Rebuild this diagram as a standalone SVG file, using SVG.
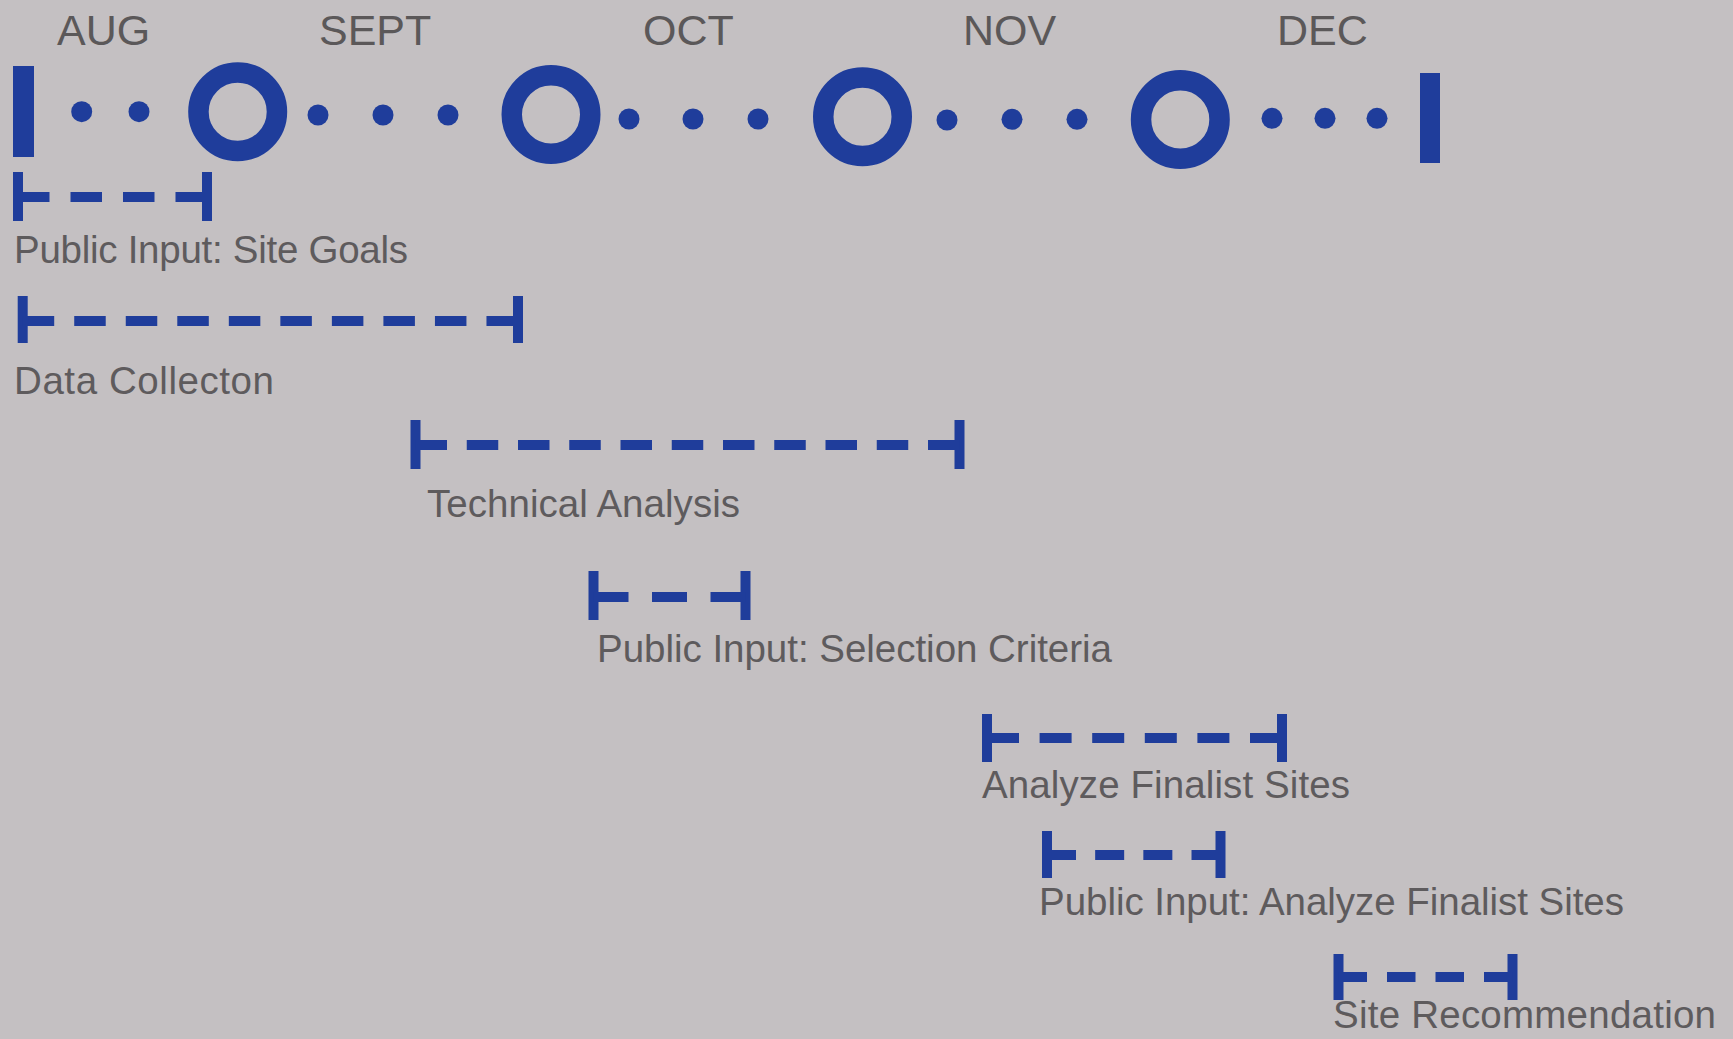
<svg xmlns="http://www.w3.org/2000/svg" width="1733" height="1039" viewBox="0 0 1733 1039">
  <style>
    .month { font-family: "Liberation Sans", Arial, sans-serif; font-size: 43px; fill: #5b5859; }
    .label { font-family: "Liberation Sans", Arial, sans-serif; font-size: 38.5px; fill: #5e5b5d; }
    .blue { fill: #1f3d9b; }
    .ring { fill: none; stroke: #1f3d9b; stroke-width: 20.5; }
    .tick { stroke: #1f3d9b; stroke-width: 10; }
    .dash { stroke: #1f3d9b; stroke-width: 10; fill: none; }
  </style>
  <rect x="0" y="0" width="1733" height="1039" fill="#c4c0c2"/>

  <g id="months">
    <text class="month" x="57" y="45">AUG</text>
    <text class="month" x="319" y="45">SEPT</text>
    <text class="month" x="643" y="45">OCT</text>
    <text class="month" x="963" y="45">NOV</text>
    <text class="month" x="1277" y="45">DEC</text>
  </g>

  <g id="timeline">
    <rect class="blue" x="13" y="66" width="21" height="91"/>
    <circle class="blue" cx="81.7" cy="111.7" r="10.5"/>
    <circle class="blue" cx="139" cy="111.7" r="10.5"/>
    <circle class="ring" cx="237.7" cy="111.7" r="39.25"/>
    <circle class="blue" cx="318" cy="115" r="10.5"/>
    <circle class="blue" cx="383" cy="115" r="10.5"/>
    <circle class="blue" cx="448" cy="115" r="10.5"/>
    <circle class="ring" cx="551" cy="114.5" r="39.25"/>
    <circle class="blue" cx="629" cy="119" r="10.5"/>
    <circle class="blue" cx="693" cy="119" r="10.5"/>
    <circle class="blue" cx="758" cy="119" r="10.5"/>
    <circle class="ring" cx="862.5" cy="116.7" r="39.25"/>
    <circle class="blue" cx="947" cy="120" r="10.5"/>
    <circle class="blue" cx="1012" cy="119.3" r="10.5"/>
    <circle class="blue" cx="1077" cy="119.3" r="10.5"/>
    <circle class="ring" cx="1180.3" cy="119.5" r="39.25"/>
    <circle class="blue" cx="1272" cy="118.3" r="10.5"/>
    <circle class="blue" cx="1325" cy="118.3" r="10.5"/>
    <circle class="blue" cx="1377" cy="118.3" r="10.5"/>
    <rect class="blue" x="1420" y="73" width="20" height="90"/>
  </g>

  <g id="task-site-goals">
    <line class="tick" x1="18" y1="172" x2="18" y2="221"/>
    <line class="tick" x1="207" y1="172" x2="207" y2="221"/>
    <line class="dash" x1="18" y1="197" x2="207" y2="197" stroke-dasharray="31.5 21"/>
    <text class="label" x="14" y="263" textLength="394" lengthAdjust="spacing">Public Input: Site Goals</text>
  </g>

  <g id="task-data-collection">
    <line class="tick" x1="22.7" y1="296" x2="22.7" y2="343"/>
    <line class="tick" x1="518" y1="296" x2="518" y2="343"/>
    <line class="dash" x1="22.7" y1="321" x2="518" y2="321" stroke-dasharray="31.5 20.03"/>
    <text class="label" x="14" y="394" textLength="260" lengthAdjust="spacing">Data Collecton</text>
  </g>

  <g id="task-technical-analysis">
    <line class="tick" x1="415.5" y1="420" x2="415.5" y2="469"/>
    <line class="tick" x1="959.5" y1="420" x2="959.5" y2="469"/>
    <line class="dash" x1="415.5" y1="445" x2="959.5" y2="445" stroke-dasharray="31.5 19.75"/>
    <text class="label" x="427" y="517" textLength="313" lengthAdjust="spacing">Technical Analysis</text>
  </g>

  <g id="task-selection-criteria">
    <line class="tick" x1="593.5" y1="571" x2="593.5" y2="620"/>
    <line class="tick" x1="745.5" y1="571" x2="745.5" y2="620"/>
    <line class="dash" x1="593.5" y1="597" x2="745.5" y2="597" stroke-dasharray="35 23.5"/>
    <text class="label" x="597" y="662" textLength="515" lengthAdjust="spacing">Public Input: Selection Criteria</text>
  </g>

  <g id="task-analyze-finalist-sites">
    <line class="tick" x1="987" y1="714" x2="987" y2="762"/>
    <line class="tick" x1="1282" y1="714" x2="1282" y2="762"/>
    <line class="dash" x1="987" y1="738" x2="1282" y2="738" stroke-dasharray="32 20.6"/>
    <text class="label" x="982" y="798" textLength="368" lengthAdjust="spacing">Analyze Finalist Sites</text>
  </g>

  <g id="task-public-input-finalist">
    <line class="tick" x1="1047" y1="831" x2="1047" y2="878"/>
    <line class="tick" x1="1220.5" y1="831" x2="1220.5" y2="878"/>
    <line class="dash" x1="1047" y1="855" x2="1220.5" y2="855" stroke-dasharray="29 19.17"/>
    <text class="label" x="1039" y="915" textLength="585" lengthAdjust="spacing">Public Input: Analyze Finalist Sites</text>
  </g>

  <g id="task-site-recommendation">
    <line class="tick" x1="1338.5" y1="954" x2="1338.5" y2="1000"/>
    <line class="tick" x1="1512.5" y1="954" x2="1512.5" y2="1000"/>
    <line class="dash" x1="1338.5" y1="977" x2="1512.5" y2="977" stroke-dasharray="28.5 20"/>
    <text class="label" x="1333" y="1028" textLength="383" lengthAdjust="spacing">Site Recommendation</text>
  </g>

  <g id="connectors"/>
</svg>
